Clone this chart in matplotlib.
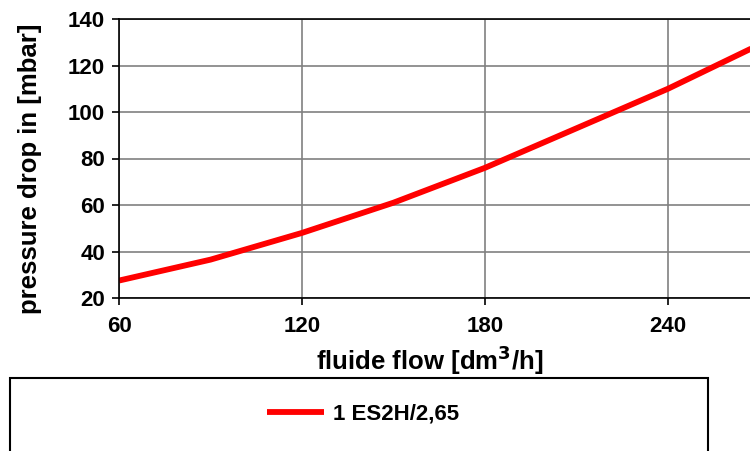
import matplotlib
matplotlib.use("Agg")
import matplotlib.pyplot as plt
from matplotlib.patches import Rectangle

flow = [60, 90, 120, 150, 180, 210, 240, 270]
pressure = [27.5, 36.5, 48, 61, 76, 93, 110, 129]
series_name = "1 ES2H/2,65"
x_ticks = [60, 120, 180, 240]
y_ticks = [20, 40, 60, 80, 100, 120, 140]

plt.rcParams['font.family'] = ['Liberation Sans', 'DejaVu Sans']
plt.rcParams['font.weight'] = 'bold'

W, H = 750, 451
fig = plt.figure(figsize=(7.5, 4.51), dpi=100)
ax_left, ax_right, ax_top, ax_bottom = 119, 759.5, 19, 298
ax = fig.add_axes([ax_left / W, 1 - ax_bottom / H, (ax_right - ax_left) / W, (ax_bottom - ax_top) / H])

line, = ax.plot(flow, pressure, color='#ff0000', lw=4.2, solid_capstyle='butt', label=series_name)
ax.set_xlim(60, 270)
ax.set_ylim(20, 140)
ax.set_xticks(x_ticks)
ax.set_yticks(y_ticks)
ax.grid(True, color='#808080', lw=1.2)
ax.set_axisbelow(True)
for s in ['top', 'right']:
    ax.spines[s].set_visible(False)
for s in ['left', 'bottom']:
    ax.spines[s].set_color('black')
    ax.spines[s].set_linewidth(1.2)
ax.axhline(140, color='black', lw=1.2, clip_on=False)
ax.tick_params(axis='both', direction='out', length=5, width=1.2, labelsize=16, pad=5)
ax.tick_params(axis='x', pad=8)
for lab in ax.get_xticklabels() + ax.get_yticklabels():
    lab.set_fontweight('bold')

fig.text(30 / W, 1 - 169 / H, "pressure drop in [mbar]", rotation=90, ha='center', va='center',
         fontsize=18.5, fontweight='bold')
fig.text(430 / W, 1 - 360 / H, r"fluide flow [dm$^{\mathbf{3}}$/h]", ha='center', va='center',
         fontsize=18.5, fontweight='bold')

rect = Rectangle((10 / W, -0.2), (708 - 10) / W, 0.2 + 1 - 378 / H, transform=fig.transFigure,
                 fill=False, edgecolor='black', lw=1.5)
fig.add_artist(rect)
fig.legend(handles=[line], loc='center', bbox_to_anchor=(363 / W, 1 - 414 / H), frameon=False,
           prop={'size': 16, 'weight': 'bold'}, handlelength=2.6, handletextpad=0.4)

fig.savefig("out.png", dpi=100)
